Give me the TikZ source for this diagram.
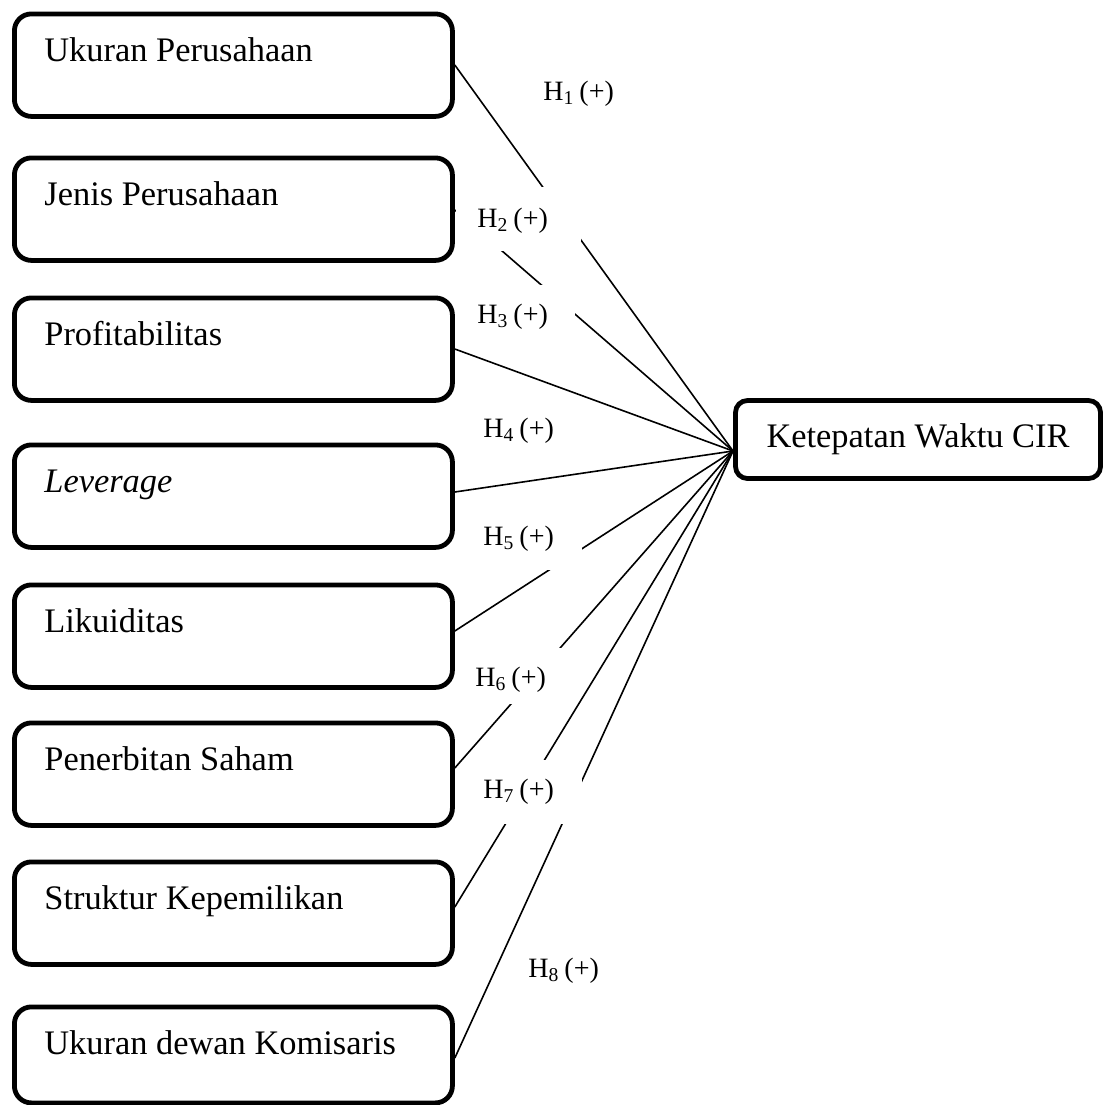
\documentclass[tikz,border=0pt]{standalone}
\usepackage{fontspec}
\setmainfont{Liberation Serif}
\newcommand{\boxtxt}[1]{\makebox[189pt][l]{#1}}
\newcommand{\hyptxt}[2]{\makebox[#1][l]{H\textsubscript{#2}\hspace{2.5pt}(+)}}
\begin{document}
\begin{tikzpicture}[x=0.5pt,y=-0.5pt,
  var/.style={draw, line width=2.4pt, rounded corners=8.5pt, inner xsep=15pt, inner ysep=0pt,
    anchor=north west, text height=23.75pt, text depth=27.5pt,
    font=\fontsize{17.2}{20}\selectfont},
  dep/.style={draw, line width=2.4pt, rounded corners=6pt, inner sep=0pt,
    minimum width=182.5pt, minimum height=39pt, font=\fontsize{17.2}{20}\selectfont},
  link/.style={line width=0.8pt},
  hyp/.style={fill=white, inner ysep=0pt, anchor=north west,
    font=\fontsize{14}{16}\selectfont}]
\useasboundingbox (0,0) rectangle (1108,1104);

% variable boxes
\node[var] (b1) at (12,11.5)   {\boxtxt{Ukuran Perusahaan}};
\node[var] (b2) at (12,155.5)  {\boxtxt{Jenis Perusahaan}};
\node[var] (b3) at (12,295.5)  {\boxtxt{Profitabilitas}};
\node[var] (b4) at (12,442.5)  {\boxtxt{\textit{Leverage}}};
\node[var] (b5) at (12,582.5)  {\boxtxt{Likuiditas}};
\node[var] (b6) at (12,720.5)  {\boxtxt{Penerbitan Saham}};
\node[var] (b7) at (12,859.5)  {\boxtxt{Struktur Kepemilikan}};
\node[var, text depth=24.25pt] (b8) at (12,1004.5) {\boxtxt{Ukuran dewan Komisaris}};

% dependent variable
\node[dep] (K) at (918,439.5) {Ketepatan Waktu CIR};
\coordinate (C) at (733,451);

% connectors
\draw[link] (b1.east |- 0,65)   -- (C);
\draw[link] (b2.east |- 0,210)  -- (C);
\draw[link] (b3.east |- 0,349)  -- (C);
\draw[link] (b4.east |- 0,492)  -- (C);
\draw[link] (b5.east |- 0,631)  -- (C);
\draw[link] (b6.east |- 0,768)  -- (C);
\draw[link] (b7.east |- 0,907)  -- (C);
\draw[link] (b8.east |- 0,1058) -- (C);

% hypothesis labels (white text boxes)
\node[hyp, inner xsep=7.5pt,  text height=15pt, text depth=7.5pt]  (h1) at (528,70)  {\hyptxt{36pt}{1}};
\node[hyp, inner xsep=10.5pt, text height=20pt, text depth=12pt]   (h2) at (456,187) {\hyptxt{41.5pt}{2}};
\node[hyp, inner xsep=11pt,   text height=19pt, text depth=11.5pt] (h3) at (455,285) {\hyptxt{38pt}{3}};
\node[hyp, inner xsep=7.5pt,  text height=16pt, text depth=14pt]   (h4) at (468,405) {\hyptxt{46pt}{4}};
\node[hyp, inner xsep=11.5pt, text height=20pt, text depth=12.5pt] (h5) at (460,505) {\hyptxt{38pt}{5}};
\node[hyp, inner xsep=7.5pt,  text height=19pt, text depth=9pt]    (h6) at (460,648) {\hyptxt{36pt}{6}};
\node[hyp, inner xsep=9pt,    text height=19pt, text depth=13pt]   (h7) at (465,760) {\hyptxt{40.5pt}{7}};
\node[hyp, inner xsep=8pt,    text height=16pt, text depth=9pt]    (h8) at (512,945) {\hyptxt{35.5pt}{8}};
\end{tikzpicture}
\end{document}
